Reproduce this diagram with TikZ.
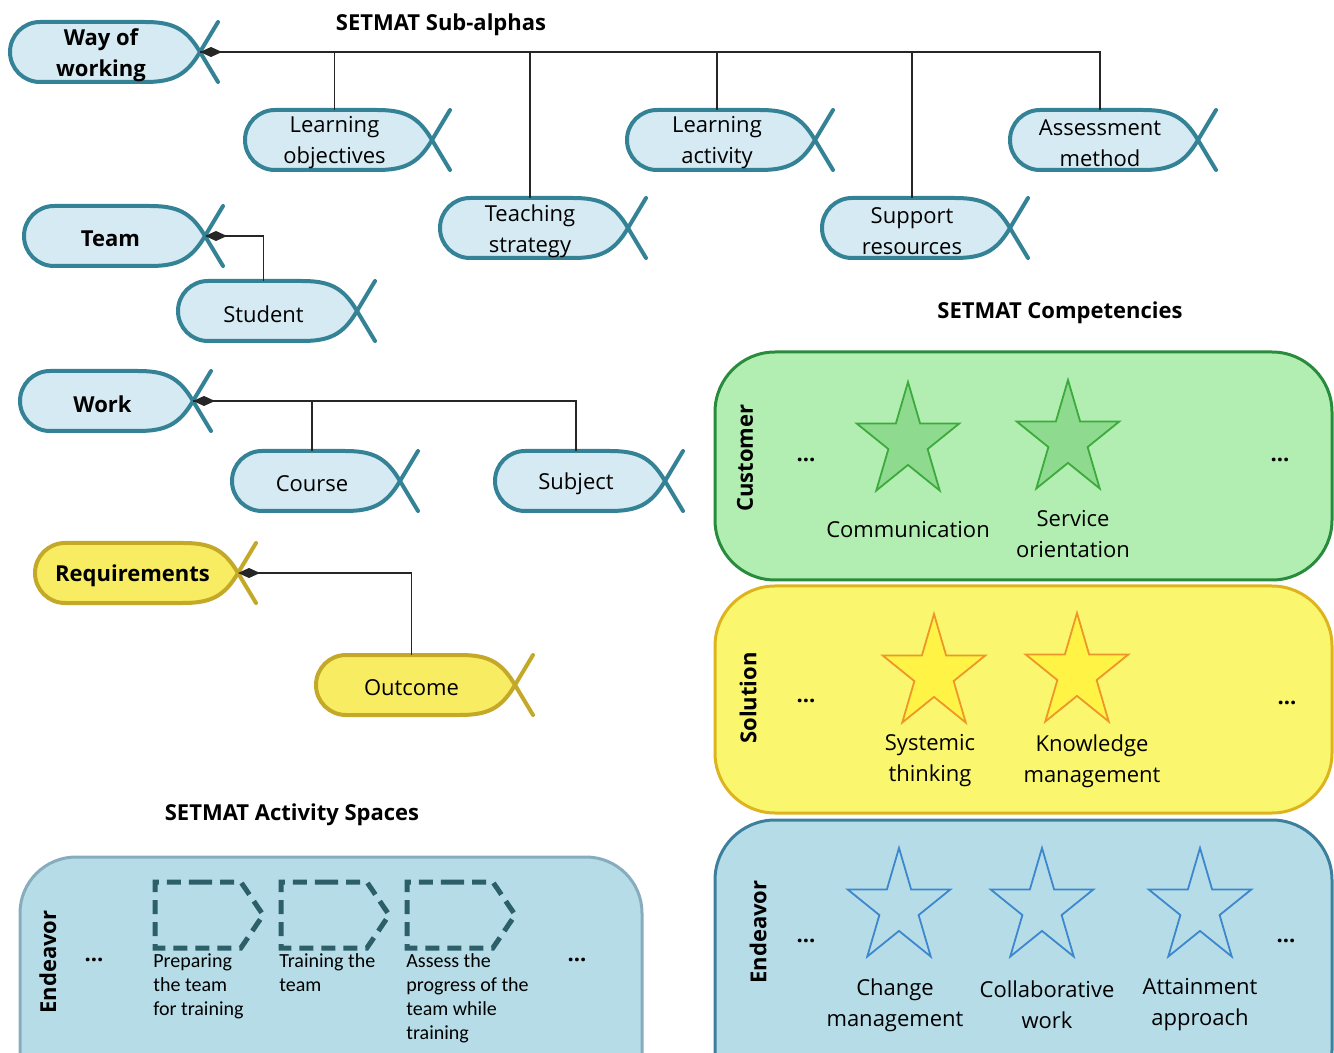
\documentclass[tikz,border=0pt]{standalone}
\usepackage{fontspec}
\setmainfont{Open Sans}
\newfontfamily\actfont{Carlito}
\usepackage{tikz}
\usetikzlibrary{positioning,arrows.meta,shapes.geometric,shapes.symbols}

\definecolor{alphafill}{RGB}{214,234,243}
\definecolor{alphadraw}{RGB}{52,130,150}
\definecolor{reqfill}{RGB}{248,236,98}
\definecolor{reqdraw}{RGB}{196,168,40}
\definecolor{custfill}{RGB}{178,238,178}
\definecolor{custdraw}{RGB}{40,140,60}
\definecolor{solfill}{RGB}{250,246,110}
\definecolor{soldraw}{RGB}{222,180,30}
\definecolor{endfill}{RGB}{182,220,232}
\definecolor{enddraw}{RGB}{60,128,158}
\definecolor{actdraw}{RGB}{135,172,190}
\definecolor{gstarfill}{RGB}{142,218,142}
\definecolor{gstardraw}{RGB}{60,170,60}
\definecolor{ystarfill}{RGB}{255,244,70}
\definecolor{ystardraw}{RGB}{238,150,40}
\definecolor{bstardraw}{RGB}{60,135,205}
\definecolor{spacedraw}{RGB}{45,95,105}

% alpha symbol: name, left x, crossing x, centre y, style, text
\newcommand{\alphashape}[6]{%
  \filldraw[#5] (#3,#4) .. controls ({#3-14},{#4-24}) and ({#3-28},{#4-30}) .. ({#3-55},{#4-30})
    -- ({#2+30},{#4-30}) .. controls ({#2+13.4},{#4-30}) and (#2,{#4-16.6}) .. (#2,#4)
    .. controls (#2,{#4+16.6}) and ({#2+13.4},{#4+30}) .. ({#2+30},{#4+30})
    -- ({#3-55},{#4+30}) .. controls ({#3-28},{#4+30}) and ({#3-14},{#4+24}) .. (#3,#4) -- cycle;
  \draw[#5,fill=none,line cap=round] ({#3+18},{#4+30}) -- (#3,#4) -- ({#3+18},{#4-30});
  \node[alphatext] (#1) at ({(#2+#3)/2-4},{#4+3}) {#6};
  \coordinate (#1-x) at (#3,#4);
}

\begin{document}
\begin{tikzpicture}[x=0.5pt,y=-0.5pt,
  every node/.style={font=\fontsize{11}{15.5}\selectfont},
  title/.style={font=\fontsize{11}{14}\selectfont\bfseries},
  alphatext/.style={inner sep=0pt,minimum height=33pt,align=center},
  alphabody/.style={fill=alphafill,draw=alphadraw,line width=2pt},
  reqbody/.style={fill=reqfill,draw=reqdraw,line width=2pt},
  conn/.style={draw=black!85,line width=0.9pt},
  owner/.style={conn,{Diamond[length=11pt,width=5pt]}-},
  panel/.style={rounded corners=30pt,line width=1.5pt},
  side/.style={title,rotate=90},
  dots/.style={font=\fontsize{11}{14}\selectfont\bfseries},
  comp/.style={star,star points=5,star point ratio=2.618,minimum size=60pt,inner sep=0pt,
    line width=0.9pt,xscale=0.9,transform shape},
  complabel/.style={align=center},
  space/.style={signal,signal to=east,signal pointer angle=112,minimum width=54pt,minimum height=33pt,
    inner sep=0pt,draw=spacedraw,line width=2.5pt,dash pattern=on 7pt off 4pt},
  spacelabel/.style={anchor=north west,align=left,inner sep=1pt,font=\actfont\fontsize{10}{12}\selectfont}
]
\useasboundingbox (0,0) rectangle (1334,1053);
\clip (0,0) rectangle (1334,1053);

%titles
\node[title] (subtitle) at (441,25) {SETMAT Sub-alphas};
\node[title] (comptitle) at (1060,313) {SETMAT Competencies};
\node[title] (acttitle) at (292,815) {SETMAT Activity Spaces};

%way of working
\alphashape{wow}{10}{200}{52}{alphabody}{\bfseries Way of\\\bfseries working}
\alphashape{lo}{245}{432}{140}{alphabody}{Learning\\objectives}
\alphashape{ts}{440}{628}{228}{alphabody}{Teaching\\strategy}
\alphashape{la}{627}{815}{140}{alphabody}{Learning\\activity}
\alphashape{sr}{822}{1010}{228}{alphabody}{Support\\resources}
\alphashape{am}{1010}{1198}{140}{alphabody}{Assessment\\method}
\draw[owner] (wow-x) -| (am.north);
\draw[conn] (wow-x) -| (lo.north);
\draw[conn] (wow-x) -| (ts.north);
\draw[conn] (wow-x) -| (la.north);
\draw[conn] (wow-x) -| (sr.north);

%team
\alphashape{team}{24}{205}{236}{alphabody}{\bfseries Team}
\alphashape{stud}{178}{357}{311}{alphabody}{Student}
\draw[owner] (team-x) -| (stud.north);

%work
\alphashape{work}{20}{193}{401}{alphabody}{\bfseries Work}
\alphashape{course}{232}{400}{481}{alphabody}{Course}
\alphashape{subj}{495}{665}{481}{alphabody}{Subject}
\draw[owner] (work-x) -| (subj.north);
\draw[conn] (work-x) -| (course.north);

%requirements
\alphashape{req}{35}{238}{573}{reqbody}{\bfseries Requirements}
\alphashape{out}{316}{515}{685}{reqbody}{Outcome}
\draw[owner] (req-x) -| (out.north);

%competency panels
\draw[panel,fill=custfill,draw=custdraw] (715,352) rectangle (1332,580);
\draw[panel,fill=solfill,draw=soldraw] (715,586) rectangle (1332,813);
\draw[panel,fill=endfill,draw=enddraw] (715,820) rectangle (1332,1110);

\node[side] (cust) at (745,458) {Customer};
\node[side] (sol) at (748,698) {Solution};
\node[side] (endv) at (758,932) {Endeavor};

\node[dots] (cd1) at (806,460) {...};
\node[dots] (cd2) at (1280,460) {...};
\node[dots] (sd1) at (806,701) {...};
\node[dots] (sd2) at (1287,703) {...};
\node[dots] (ed1) at (806,941) {...};
\node[dots] (ed2) at (1286,941) {...};

%stars
\node[comp,fill=gstarfill,draw=gstardraw] (comm) at (908,442) {};
\node[comp,fill=gstarfill,draw=gstardraw] (serv) at (1068,440) {};
\node[comp,fill=ystarfill,draw=ystardraw] (syst) at (934,674) {};
\node[comp,fill=ystarfill,draw=ystardraw] (know) at (1077,673) {};
\node[comp,fill=endfill,draw=bstardraw] (chg) at (899,908) {};
\node[comp,fill=endfill,draw=bstardraw] (coll) at (1042,908) {};
\node[comp,fill=endfill,draw=bstardraw] (att) at (1200,908) {};

\node[complabel] (comml) at (908,530) {Communication};
\node[complabel] (servl) at (1073,534) {Service\\orientation};
\node[complabel] (systl) at (930,761) {Systemic\\thinking};
\node[complabel] (knowl) at (1092,761) {Knowledge\\management};
\node[complabel] (chgl) at (895,1005) {Change\\management};
\node[complabel] (colll) at (1047,1005) {Collaborative\\work};
\node[complabel] (attl) at (1200,1005) {Attainment\\approach};

%activity spaces
\draw[panel,rounded corners=28pt,fill=endfill,draw=actdraw] (20,857) rectangle (642,1110);
\node[side] (aend) at (48,962) {Endeavor};
\node[dots] (ad1) at (94,960) {...};
\node[dots] (ad2) at (577,960) {...};

\node[space] (as1) at (198,915) {};
\node[space] (as2) at (324,915) {};
\node[space] (as3) at (450,915) {};

\node[spacelabel] (as1l) at (151,951) {Preparing\\the team\\for training};
\node[spacelabel] (as2l) at (277,951) {Training the\\ team};
\node[spacelabel] (as3l) at (404,951) {Assess the\\progress of the\\team while\\training};
\end{tikzpicture}
\end{document}
